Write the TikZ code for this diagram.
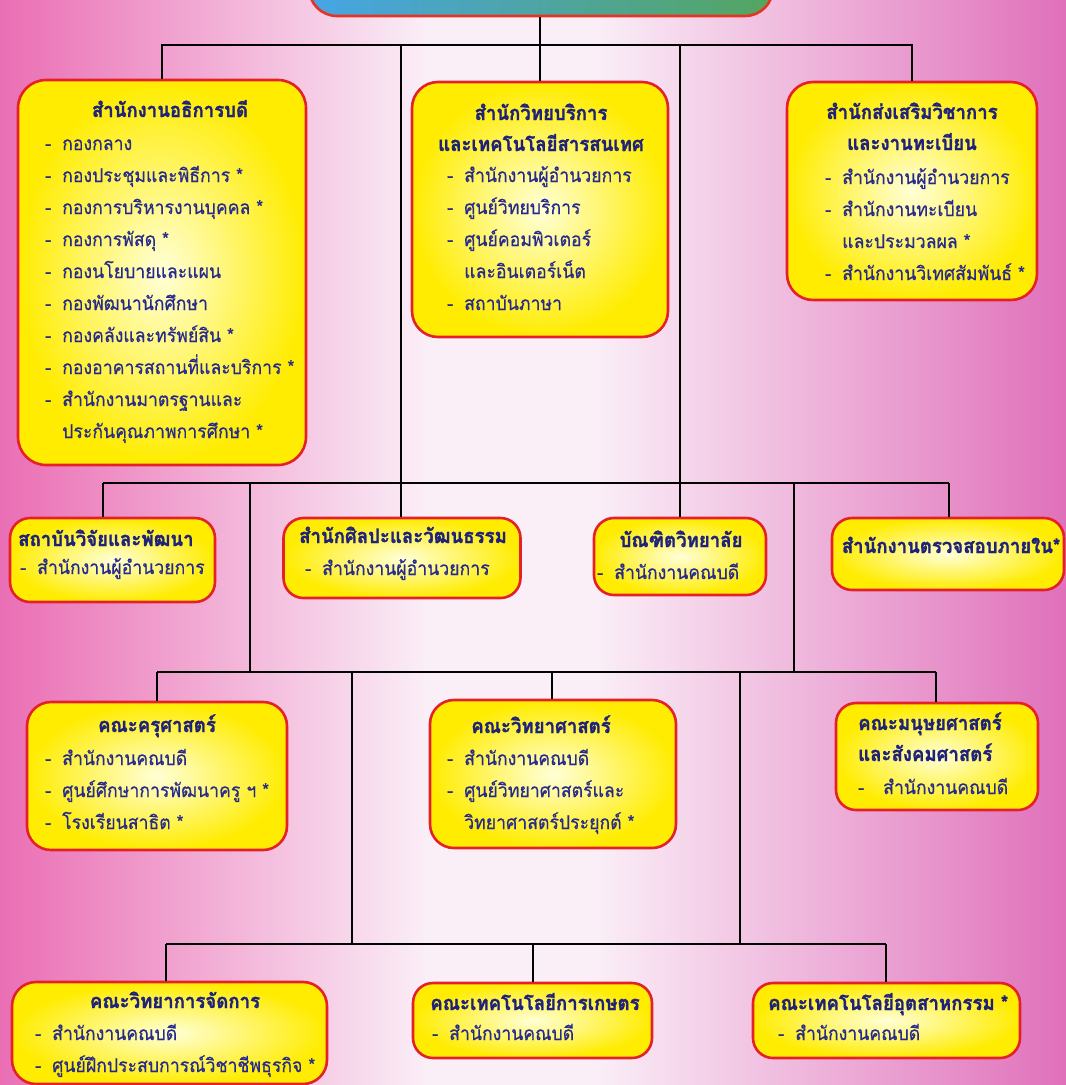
\documentclass[tikz,border=0pt]{standalone}
\usepackage{fontspec}
\newfontfamily\thaiitem[Script=Thai, FakeStretch=0.93, FakeBold=0.5]{Loma}
\newfontfamily\thaititle[Script=Thai, FakeStretch=0.93, FakeBold=1.3]{Loma}
\definecolor{ink}{RGB}{38,42,140}
\definecolor{inkT}{RGB}{30,34,120}
\definecolor{boxred}{RGB}{228,32,42}
\definecolor{yel}{RGB}{255,236,0}
\definecolor{glowc}{RGB}{255,255,215}
\definecolor{bgL}{RGB}{234,110,180}
\definecolor{bgM}{RGB}{250,238,247}
\definecolor{bgR}{RGB}{224,112,186}
\definecolor{tBlue}{RGB}{70,165,230}
\definecolor{tMid}{RGB}{215,232,150}
\definecolor{tGreen}{RGB}{85,165,95}
\pgfdeclarehorizontalshading{bgshade}{100bp}{color(0bp)=(bgL); color(25bp)=(bgL); color(45bp)=(bgM); color(53bp)=(bgM); color(75bp)=(bgR); color(100bp)=(bgR)}
\newcommand\dsh{\makebox[17pt][l]{-}}
\newcommand\ind{\hspace*{17pt}}
\tikzset{
  orgbox/.style={draw=boxred, line width=2.6pt, rounded corners=20pt, inner sep=0pt, inner color=glowc, outer color=yel},
  ttl/.style={font=\thaititle\bfseries\fontsize{20}{31}\selectfont, text=inkT, inner sep=0pt},
  itms/.style={font=\thaiitem\fontsize{19}{32}\selectfont, text=ink, inner sep=0pt, anchor=base west},
  conn/.style={draw=black, line width=1.6pt},
}
\begin{document}
\begin{tikzpicture}[x=1pt,y=-1pt]
\useasboundingbox (0,0) rectangle (1066,1085);
\clip (0,0) rectangle (1066,1085);
\shade[shading=bgshade] (0,0) rectangle (1066,1085);

% top box (cut off)
\node[draw=boxred!80!orange, line width=2.6pt, rounded corners=28pt, minimum width=464pt, minimum height=70pt, inner sep=0pt, left color=tBlue, middle color=tMid, right color=tGreen] (top) at (541,-19) {};

% boxes
\node[orgbox, rounded corners=28pt, minimum width=288pt, minimum height=385pt] (b1) at (162,272.5) {};
\node[orgbox, rounded corners=26pt, minimum width=256pt, minimum height=255pt] (b2) at (540,209.5) {};
\node[orgbox, rounded corners=26pt, minimum width=250pt, minimum height=218pt] (b3) at (912,191) {};
\node[orgbox, minimum width=205pt, minimum height=84pt] (b4) at (112.5,560) {};
\node[orgbox, minimum width=237pt, minimum height=80pt] (b5) at (402,558) {};
\node[orgbox, minimum width=172pt, minimum height=77pt] (b6) at (680,556.5) {};
\node[orgbox, minimum width=232pt, minimum height=72pt] (b7) at (948,554) {};
\node[orgbox, rounded corners=24pt, minimum width=260pt, minimum height=148pt] (b8) at (157,776) {};
\node[orgbox, rounded corners=24pt, minimum width=246pt, minimum height=148pt] (b9) at (553,774) {};
\node[orgbox, minimum width=202pt, minimum height=107pt] (b10) at (937,756.5) {};
\node[orgbox, rounded corners=24pt, minimum width=315pt, minimum height=102pt] (b11) at (169.5,1033) {};
\node[orgbox, minimum width=239pt, minimum height=75pt] (b12) at (532.5,1020.5) {};
\node[orgbox, minimum width=267pt, minimum height=75pt] (b13) at (886.5,1020.5) {};

% junction coordinates
\coordinate (h1) at (540,45);
\coordinate (v1L) at (401,45);
\coordinate (v1R) at (680,45);
\coordinate (h2L) at (103,483);
\coordinate (h2R) at (949,483);
\coordinate (v2L) at (250,483);
\coordinate (v2R) at (794,483);
\coordinate (h3L) at (157,672);
\coordinate (h3R) at (936,672);
\coordinate (h3M) at (552,672);
\coordinate (v3L) at (352,672);
\coordinate (v3R) at (740,672);
\coordinate (h4L) at (166,944);
\coordinate (h4R) at (886,944);
\coordinate (h4M) at (533,944);

% connectors
\draw[conn] (top.south -| h1) -- (h1);
\draw[conn] (b1.north) |- (h1) -| (b3.north);
\draw[conn] (h1) -- (b2.north);
\draw[conn] (v1L) -- (v1L |- b5.north);
\draw[conn] (v1R) -- (v1R |- b6.north);
\draw[conn] (h2L) -- (h2R);
\draw[conn] (h2L) -- (h2L |- b4.north);
\draw[conn] (h2R) -- (h2R |- b7.north);
\draw[conn] (v2L) -- (v2L |- h3L);
\draw[conn] (v2R) -- (v2R |- h3L);
\draw[conn] (h3L) -- (h3R);
\draw[conn] (h3L) -- (h3L |- b8.north);
\draw[conn] (h3R) -- (h3R |- b10.north);
\draw[conn] (h3M) -- (h3M |- b9.north);
\draw[conn] (v3L) -- (v3L |- h4L);
\draw[conn] (v3R) -- (v3R |- h4L);
\draw[conn] (h4L) -- (h4R);
\draw[conn] (h4L) -- (h4L |- b11.north);
\draw[conn] (h4R) -- (h4R |- b13.north);
\draw[conn] (h4M) -- (h4M |- b12.north);

% texts
\node[ttl, anchor=base] (t1) at (170,117) {สำนักงานอธิการบดี};
\node[itms] (i1) at (45,150) {\parbox[t]{300pt}{\raggedright
\dsh กองกลาง\\
\dsh กองประชุมและพิธีการ *\\
\dsh กองการบริหารงานบุคคล *\\
\dsh กองการพัสดุ *\\
\dsh กองนโยบายและแผน\\
\dsh กองพัฒนานักศึกษา\\
\dsh กองคลังและทรัพย์สิน *\\
\dsh กองอาคารสถานที่และบริการ *\\
\dsh สำนักงานมาตรฐานและ\\
\ind ประกันคุณภาพการศึกษา *}};

\node[ttl, anchor=base] (t2) at (541,120) {\parbox[t]{250pt}{\centering สำนักวิทยบริการ\\และเทคโนโลยีสารสนเทศ}};
\node[itms] (i2) at (447,182) {\parbox[t]{250pt}{\raggedright
\dsh สำนักงานผู้อำนวยการ\\
\dsh ศูนย์วิทยบริการ\\
\dsh ศูนย์คอมพิวเตอร์\\
\ind และอินเตอร์เน็ต\\
\dsh สถาบันภาษา}};

\node[ttl, anchor=base] (t3) at (912,119) {\parbox[t]{250pt}{\centering สำนักส่งเสริมวิชาการ\\และงานทะเบียน}};
\node[itms] (i3) at (825,184) {\parbox[t]{250pt}{\raggedright
\dsh สำนักงานผู้อำนวยการ\\
\dsh สำนักงานทะเบียน\\
\ind และประมวลผล *\\
\dsh สำนักงานวิเทศสัมพันธ์ *}};

\node[ttl, anchor=base west] (t4) at (18,546) {สถาบันวิจัยและพัฒนา};
\node[itms] (i4) at (20,574) {\dsh สำนักงานผู้อำนวยการ};

\node[ttl, anchor=base] (t5) at (403,543) {สำนักศิลปะและวัฒนธรรม};
\node[itms] (i5) at (305,575) {\dsh สำนักงานผู้อำนวยการ};

\node[ttl, anchor=base] (t6) at (681,547) {บัณฑิตวิทยาลัย};
\node[itms] (i6) at (597,579) {\dsh สำนักงานคณบดี};

\node[ttl, anchor=base] (t7) at (951,553) {สำนักงานตรวจสอบภายใน*};

\node[ttl, anchor=base] (t8) at (157,732) {คณะครุศาสตร์};
\node[itms] (i8) at (45,765) {\parbox[t]{260pt}{\raggedright
\dsh สำนักงานคณบดี\\
\dsh ศูนย์ศึกษาการพัฒนาครู ฯ *\\
\dsh โรงเรียนสาธิต *}};

\node[ttl, anchor=base] (t9) at (541,733) {คณะวิทยาศาสตร์};
\node[itms] (i9) at (447,765) {\parbox[t]{250pt}{\raggedright
\dsh สำนักงานคณบดี\\
\dsh ศูนย์วิทยาศาสตร์และ\\
\ind วิทยาศาสตร์ประยุกต์ *}};

\node[ttl, anchor=base west] (t10) at (858,730) {\parbox[t]{190pt}{\raggedright คณะมนุษยศาสตร์\\และสังคมศาสตร์}};
\node[itms] (i10) at (858,794) {\makebox[25pt][l]{-}สำนักงานคณบดี};

\node[ttl, anchor=base] (t11) at (175,1008) {คณะวิทยาการจัดการ};
\node[itms] (i11) at (35,1040) {\parbox[t]{320pt}{\raggedright
\dsh สำนักงานคณบดี\\
\dsh ศูนย์ฝึกประสบการณ์วิชาชีพธุรกิจ *}};

\node[ttl, anchor=base] (t12) at (535,1010) {คณะเทคโนโลยีการเกษตร};
\node[itms] (i12) at (432,1040) {\dsh สำนักงานคณบดี};

\node[ttl, anchor=base west] (t13) at (768,1010) {คณะเทคโนโลยีอุตสาหกรรม *};
\node[itms] (i13) at (778,1040) {\dsh สำนักงานคณบดี};
\end{tikzpicture}
\end{document}
